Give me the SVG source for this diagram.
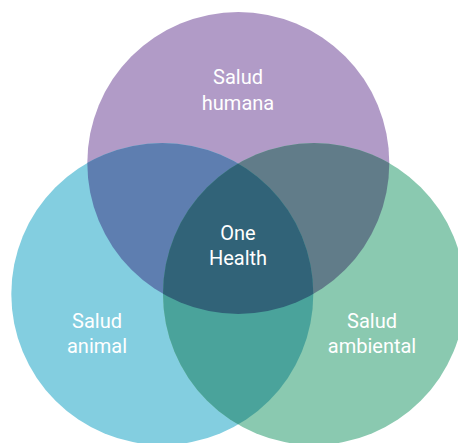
<svg xmlns="http://www.w3.org/2000/svg" width="458" height="443" viewBox="0 0 458 443">
<style>
.lbl{font-family:Roboto,"Liberation Sans",sans-serif;font-size:20px;fill:#ffffff;text-anchor:middle}
</style>
<defs>
<clipPath id="cTop"><circle cx="238.3" cy="163" r="151"/></clipPath>
<clipPath id="cLeft"><circle cx="162.3" cy="294" r="151"/></clipPath>
<clipPath id="cRight"><circle cx="314" cy="294" r="151"/></clipPath>
</defs>
<rect width="458" height="443" fill="#ffffff"/>
<g id="human"><circle cx="238.3" cy="163" r="151" fill="#B19BC7"/></g>
<g id="animal"><circle cx="162.3" cy="294" r="151" fill="#83CEE0"/></g>
<g id="environment"><circle cx="314" cy="294" r="151" fill="#8AC9B0"/></g>
<g id="overlaps">
<g clip-path="url(#cTop)"><circle cx="162.3" cy="294" r="151" fill="#5E7EB0"/></g>
<g clip-path="url(#cTop)"><circle cx="314" cy="294" r="151" fill="#617C89"/></g>
<g clip-path="url(#cLeft)"><circle cx="314" cy="294" r="151" fill="#4AA39B"/></g>
<g clip-path="url(#cTop)"><g clip-path="url(#cLeft)"><circle cx="314" cy="294" r="151" fill="#316378"/></g></g>
</g>
<g id="labels">
<text class="lbl" x="238" y="84">Salud</text>
<text class="lbl" x="238" y="110">humana</text>
<text class="lbl" x="238" y="239.5">One</text>
<text class="lbl" x="238" y="264.5">Health</text>
<text class="lbl" x="97" y="328">Salud</text>
<text class="lbl" x="97" y="352.5">animal</text>
<text class="lbl" x="372" y="328">Salud</text>
<text class="lbl" x="372" y="352.5">ambiental</text>
</g>
</svg>
